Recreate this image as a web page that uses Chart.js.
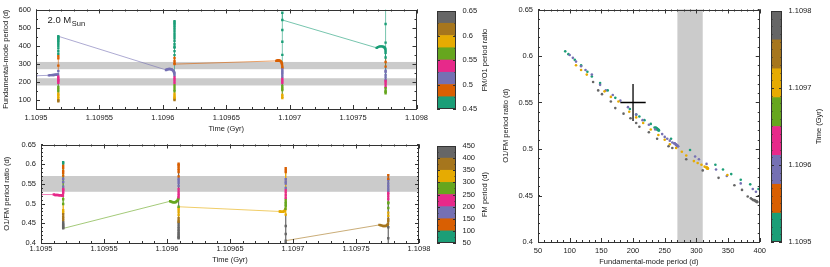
<!DOCTYPE html>
<html>
<head>
<meta charset="utf-8">
<title>Períodos 2.0 MSun</title>
<script src="https://cdn.jsdelivr.net/npm/chart.js@4.4.1/dist/chart.umd.min.js"></script>
<style>
  body { margin: 0; background: #fff; }
  #painel { position: relative; width: 830px; height: 267px; }
  canvas { position: absolute; }
</style>
</head>
<body>
<div id="painel">
  <canvas id="time-fm-chart" width="432" height="135" style="left:0;top:0"></canvas>
  <canvas id="ratio-bar" width="60" height="135" style="left:437px;top:0"></canvas>
  <canvas id="time-ratio-chart" width="432" height="132" style="left:0;top:135px"></canvas>
  <canvas id="fm-bar" width="60" height="132" style="left:437px;top:135px"></canvas>
  <canvas id="fm-ratio-chart" width="273" height="267" style="left:497px;top:0"></canvas>
  <canvas id="time-bar" width="59" height="267" style="left:771px;top:0"></canvas>
</div>
<script>
// Cores das classes (paleta Dark2)
const binColors = ['#1b9e77', '#d95f02', '#7570b3', '#e7298a', '#66a61e', '#e6ab02', '#a6761d', '#666666'];

// Limites das classes de cor
const ratioEdges = [0.45, 0.475, 0.5, 0.525, 0.55, 0.575, 0.6, 0.625, 0.65];
const fmEdges = [50, 100, 150, 200, 250, 300, 350, 400, 450];
const timeEdges = [1.1095, 1.1095375, 1.109575, 1.1096125, 1.10965, 1.1096875, 1.109725, 1.1097625, 1.1098];

// Rótulos dos eixos
const timeTicks = [1.1095, 1.10955, 1.1096, 1.10965, 1.1097, 1.10975, 1.1098];
const timeTickLabels = ['1.1095', '1.10955', '1.1096', '1.10965', '1.1097', '1.10975', '1.1098'];
const fmTicks = [100, 200, 300, 400, 500, 600];
const fmAxisTicks = [50, 100, 150, 200, 250, 300, 350, 400];
const ratioTicks = [0.4, 0.45, 0.5, 0.55, 0.6, 0.65];
const ratioTickLabels = ['0.4', '0.45', '0.5', '0.55', '0.6', '0.65'];
const ratioBarTicks = [0.45, 0.5, 0.55, 0.6, 0.65];
const ratioBarLabels = ['0.45', '0.5', '0.55', '0.6', '0.65'];
const fmBarTicks = [50, 100, 150, 200, 250, 300, 350, 400, 450];
const timeBarTicks = [1.1095, 1.1096, 1.1097, 1.1098];
const timeBarLabels = ['1.1095', '1.1096', '1.1097', '1.1098'];

// Faixas cinzentas
const fmBands = [[180, 220], [270, 310]];
const ratioBands = [[0.53, 0.57]];

// Cruz de observação
const crossFm = [180, 200, 220];
const crossRatio = [0.53, 0.55, 0.57];

// Dados do modelo: idade (Gyr)
const timeGyr = [
  1.1095000,
  1.1095102, 1.1095112, 1.1095122, 1.1095132, 1.1095142, 1.1095150, 1.1095158, 1.1095165, 1.1095170, 1.1095174,
  1.1095176, 1.1095176, 1.1095176, 1.1095176, 1.1095176, 1.1095176, 1.1095176, 1.1095176, 1.1095176, 1.1095176,
  1.1095176, 1.1095176, 1.1095176, 1.1095176, 1.1095176, 1.1095176, 1.1095176, 1.1095176, 1.1095176, 1.1095176,
  1.1095176, 1.1095176, 1.1095176, 1.1095176, 1.1095176, 1.1095176, 1.1095176, 1.1095176, 1.1095176,
  1.1096025, 1.1096032, 1.1096040, 1.1096048, 1.1096056, 1.1096064, 1.1096071, 1.1096077, 1.1096082, 1.1096086, 1.1096088, 1.1096090, 1.1096091,
  1.1096092, 1.1096092, 1.1096092, 1.1096092, 1.1096092, 1.1096092, 1.1096092, 1.1096092, 1.1096092, 1.1096092,
  1.1096092, 1.1096092, 1.1096092, 1.1096092, 1.1096092, 1.1096092, 1.1096092, 1.1096092, 1.1096092, 1.1096092,
  1.1096092, 1.1096092, 1.1096092, 1.1096092, 1.1096092, 1.1096092, 1.1096092, 1.1096092, 1.1096092, 1.1096092,
  1.1096092, 1.1096092, 1.1096092, 1.1096092, 1.1096092,
  1.1096895, 1.1096900, 1.1096905, 1.1096910, 1.1096915, 1.1096920, 1.1096925, 1.1096930, 1.1096935, 1.1096938, 1.1096940,
  1.1096942, 1.1096942, 1.1096942, 1.1096942, 1.1096942, 1.1096942, 1.1096942, 1.1096942, 1.1096942, 1.1096942,
  1.1096942, 1.1096942, 1.1096942, 1.1096942, 1.1096942, 1.1096942, 1.1096942, 1.1096942, 1.1096942, 1.1096942,
  1.1096942,
  1.1097686, 1.1097695, 1.1097705, 1.1097715, 1.1097725, 1.1097735, 1.1097742, 1.1097748, 1.1097752, 1.1097754,
  1.1097756, 1.1097756, 1.1097756, 1.1097756, 1.1097756, 1.1097756, 1.1097756, 1.1097756, 1.1097756, 1.1097756,
  1.1097756, 1.1097756, 1.1097756, 1.1097756, 1.1097756, 1.1097756, 1.1097756, 1.1097756, 1.1097756, 1.1097756,
  1.1097756
];

// Período do modo fundamental (d)
const fmPeriod = [
  234,
  236, 237, 237, 238, 238, 239, 239, 240, 240, 241,
  228, 218, 210, 205, 195, 172, 160, 148, 135, 128,
  118, 108, 98, 93, 260, 290, 330, 342, 355, 370,
  385, 398, 410, 420, 428, 435, 441, 447, 452,
  266, 268, 270, 271, 271, 270, 268, 265, 262, 258, 254, 250, 246,
  235, 225, 215, 205, 192, 180, 168, 157, 148, 135,
  125, 118, 110, 105, 100, 535, 528, 520, 510, 500,
  490, 478, 465, 452, 440, 425, 408, 394, 389, 370,
  348, 331, 316, 304, 298,
  316, 317, 318, 318, 318, 317, 316, 313, 308, 302, 296,
  284, 277, 268, 258, 250, 240, 228, 216, 205, 194,
  177, 165, 155, 127, 118, 110, 349, 422, 487, 582,
  542,
  388, 392, 395, 396, 396, 395, 393, 390, 386, 381,
  372, 360, 335, 310, 284, 262, 256, 238, 225, 210,
  205, 196, 185, 172, 165, 151, 145, 137, 417, 520,
  640
];

// Razão de períodos O1/FM
const periodRatio = [
  0.523,
  0.523, 0.522, 0.522, 0.522, 0.521, 0.521, 0.521, 0.521, 0.520, 0.520,
  0.527, 0.531, 0.535, 0.537, 0.543, 0.555, 0.563, 0.571, 0.578, 0.583,
  0.590, 0.596, 0.602, 0.605, 0.511, 0.499, 0.483, 0.478, 0.473, 0.467,
  0.462, 0.457, 0.452, 0.449, 0.446, 0.443, 0.441, 0.439, 0.437,
  0.506, 0.505, 0.504, 0.503, 0.503, 0.503, 0.504, 0.506, 0.507, 0.509, 0.511, 0.513, 0.516,
  0.521, 0.526, 0.531, 0.537, 0.545, 0.552, 0.558, 0.563, 0.569, 0.580,
  0.585, 0.589, 0.594, 0.598, 0.601, 0.412, 0.414, 0.416, 0.419, 0.422,
  0.425, 0.429, 0.433, 0.437, 0.441, 0.446, 0.451, 0.454, 0.457, 0.463,
  0.471, 0.478, 0.484, 0.489, 0.492,
  0.480, 0.480, 0.479, 0.479, 0.479, 0.479, 0.480, 0.481, 0.483, 0.485, 0.487,
  0.493, 0.497, 0.501, 0.505, 0.510, 0.515, 0.521, 0.528, 0.534, 0.540,
  0.551, 0.556, 0.562, 0.580, 0.585, 0.590, 0.472, 0.443, 0.423, 0.401,
  0.406,
  0.446, 0.445, 0.444, 0.443, 0.443, 0.443, 0.444, 0.445, 0.447, 0.449,
  0.456, 0.461, 0.469, 0.477, 0.489, 0.501, 0.503, 0.511, 0.518, 0.524,
  0.528, 0.533, 0.538, 0.544, 0.551, 0.559, 0.563, 0.572, 0.440, 0.412,
  0.380
];

Chart.defaults.font.family = '"Liberation Sans", Arial, sans-serif';
Chart.defaults.font.size = 7.5;
Chart.defaults.color = '#1a1a1a';
Chart.defaults.animation = false;

// Classe de cor de um valor
function binIndex(edges, v) {
  for (let i = 1; i < edges.length - 1; i++) {
    if (v < edges[i]) return i - 1;
  }
  return edges.length - 2;
}

function fixedTicks(values) {
  return scale => { scale.ticks = values.map(v => ({value: v})); };
}

const noGrid = {display: false, drawTicks: false};

// Faixas cinzentas atrás dos dados
const bandsPlugin = {
  id: 'bands',
  beforeDatasetsDraw(chart, args, opts) {
    const {ctx, chartArea: a, scales} = chart;
    ctx.save();
    ctx.fillStyle = '#cbcbcb';
    (opts.y || []).forEach(([lo, hi]) => {
      const y1 = scales.y.getPixelForValue(hi);
      const y2 = scales.y.getPixelForValue(lo);
      ctx.fillRect(a.left, y1, a.width, y2 - y1);
    });
    (opts.x || []).forEach(([lo, hi]) => {
      const x1 = scales.x.getPixelForValue(lo);
      const x2 = scales.x.getPixelForValue(hi);
      ctx.fillRect(x1, a.top, x2 - x1, a.height);
    });
    ctx.restore();
  }
};

// Moldura com marcas para dentro
const framePlugin = {
  id: 'frame',
  afterDatasetsDraw(chart, args, opts) {
    const {ctx, chartArea: a} = chart;
    ctx.save();
    ctx.strokeStyle = '#333';
    ctx.lineWidth = 1;
    ctx.beginPath();
    for (const id of ['x', 'y']) {
      const sc = chart.scales[id];
      if (!sc || !opts[id]) continue;
      const len = opts[id].len || 4;
      const marks = sc.ticks.map(t => [t.value, len]);
      const minor = opts[id].minor;
      if (minor) {
        for (let v = sc.min; v <= sc.max + minor / 2; v += minor) marks.push([v, len / 2]);
      }
      marks.forEach(([v, l]) => {
        const p = Math.round(sc.getPixelForValue(v)) + 0.5;
        if (id === 'x') {
          ctx.moveTo(p, a.bottom); ctx.lineTo(p, a.bottom - l);
          ctx.moveTo(p, a.top); ctx.lineTo(p, a.top + l);
        } else {
          ctx.moveTo(a.left, p); ctx.lineTo(a.left + l, p);
          ctx.moveTo(a.right, p); ctx.lineTo(a.right - l, p);
        }
      });
    }
    ctx.stroke();
    ctx.strokeRect(Math.round(a.left) + 0.5, Math.round(a.top) + 0.5, Math.round(a.width) - 1, Math.round(a.height) - 1);
    ctx.restore();
  }
};

// Título vertical das barras de cor
const sideTitlePlugin = {
  id: 'sideTitle',
  afterDraw(chart, args, opts) {
    const {ctx, chartArea: a} = chart;
    ctx.save();
    ctx.translate(opts.x, (a.top + a.bottom) / 2);
    ctx.rotate(-Math.PI / 2);
    ctx.font = '7.5px "Liberation Sans", Arial, sans-serif';
    ctx.fillStyle = '#1a1a1a';
    ctx.textAlign = 'center';
    ctx.textBaseline = 'middle';
    ctx.fillText(opts.text, 0, 0);
    ctx.restore();
  }
};

// Rótulo da massa
const massLabelPlugin = {
  id: 'massLabel',
  afterDraw(chart) {
    const ctx = chart.ctx;
    ctx.save();
    ctx.fillStyle = '#1a1a1a';
    ctx.font = '9.5px "Liberation Sans", Arial, sans-serif';
    ctx.fillText('2.0 M', 47.5, 23);
    const w = ctx.measureText('2.0 M').width;
    ctx.font = '7.5px "Liberation Sans", Arial, sans-serif';
    ctx.fillText('Sun', 47.5 + w + 0.5, 25.8);
    ctx.restore();
  }
};

function timeAxis(height, labelPad, titlePad) {
  return {
    type: 'linear', min: 1.1095, max: 1.1098,
    afterBuildTicks: fixedTicks(timeTicks),
    afterFit: s => { s.height = height; },
    ticks: {callback: (v, i) => timeTickLabels[i], padding: labelPad, maxRotation: 0, autoSkip: false},
    grid: noGrid, border: {display: false},
    title: {display: true, text: 'Time (Gyr)', padding: {top: 0, bottom: titlePad}}
  };
}

function valueAxis(min, max, ticks, labels, width, title, titlePad) {
  return {
    type: 'linear', min: min, max: max,
    afterBuildTicks: fixedTicks(ticks),
    afterFit: s => { s.width = width; },
    ticks: {callback: (v, i) => labels[i], padding: 5, autoSkip: false},
    grid: noGrid, border: {display: false},
    title: {display: true, text: title, padding: {top: titlePad, bottom: 0}}
  };
}

function lineDataset(xs, ys, colors) {
  return {
    data: xs.map((x, i) => ({x: x, y: ys[i]})),
    showLine: true,
    borderWidth: 0.9,
    borderColor: colors[0] + 'aa',
    segment: {borderColor: c => colors[c.p1DataIndex] + 'aa'},
    pointStyle: 'rect',
    pointRadius: 1.7,
    pointBorderWidth: 0,
    pointBackgroundColor: colors
  };
}

// Gráfico: tempo x período fundamental
function generateTimeFmChart() {
  const colors = periodRatio.map(r => binColors[binIndex(ratioEdges, r)]);
  new Chart(document.getElementById('time-fm-chart'), {
    type: 'scatter',
    data: {datasets: [lineDataset(timeGyr, fmPeriod, colors)]},
    options: {
      responsive: false,
      events: [],
      layout: {padding: {left: 0, right: 5, top: 9, bottom: 0}, autoPadding: false},
      plugins: {
        legend: {display: false}, tooltip: {enabled: false},
        bands: {y: fmBands},
        frame: {x: {minor: 0.00001}, y: {minor: 50}}
      },
      scales: {
        x: timeAxis(26, 4, 1.8),
        y: valueAxis(50, 600, fmTicks, fmTicks.map(String), 36, 'Fundamental-mode period (d)', 1.7)
      }
    },
    plugins: [bandsPlugin, framePlugin, massLabelPlugin]
  });
}

// Gráfico: tempo x razão de períodos
function generateTimeRatioChart() {
  const colors = fmPeriod.map(p => binColors[binIndex(fmEdges, p)]);
  new Chart(document.getElementById('time-ratio-chart'), {
    type: 'scatter',
    data: {datasets: [lineDataset(timeGyr, periodRatio, colors)]},
    options: {
      responsive: false,
      events: [],
      layout: {padding: {left: 0, right: 5, top: 8, bottom: 0}, autoPadding: false},
      plugins: {
        legend: {display: false}, tooltip: {enabled: false},
        bands: {y: ratioBands},
        frame: {x: {minor: 0.00001}, y: {minor: 0.01}}
      },
      scales: {
        x: timeAxis(24, 1.5, 3),
        y: valueAxis(0.4, 0.65, ratioTicks, ratioTickLabels, 41, 'O1/FM period ratio (d)', 2.7)
      }
    },
    plugins: [bandsPlugin, framePlugin]
  });
}

// Gráfico: período fundamental x razão
function generateFmRatioChart() {
  const colors = timeGyr.map(t => binColors[binIndex(timeEdges, t)]);
  const crossStyle = {showLine: true, borderColor: '#000', borderWidth: 1.3, pointRadius: 0};
  new Chart(document.getElementById('fm-ratio-chart'), {
    type: 'scatter',
    data: {datasets: [
      {
        data: fmPeriod.map((p, i) => ({x: p, y: periodRatio[i]})),
        pointStyle: 'circle', pointRadius: 1.3, pointBorderWidth: 0,
        pointBackgroundColor: colors
      },
      Object.assign({data: [{x: crossFm[0], y: crossRatio[1]}, {x: crossFm[2], y: crossRatio[1]}]}, crossStyle),
      Object.assign({data: [{x: crossFm[1], y: crossRatio[0]}, {x: crossFm[1], y: crossRatio[2]}]}, crossStyle)
    ]},
    options: {
      responsive: false,
      events: [],
      layout: {padding: {left: 0, right: 4, top: 9, bottom: 0}, autoPadding: false},
      plugins: {
        legend: {display: false}, tooltip: {enabled: false},
        bands: {x: [[270, 310]]},
        frame: {x: {minor: 10}, y: {minor: 0.01}}
      },
      scales: {
        x: {
          type: 'linear', min: 50, max: 400,
          afterBuildTicks: fixedTicks(fmAxisTicks),
          afterFit: s => { s.height = 25; },
          ticks: {callback: (v, i) => String(fmAxisTicks[i]), padding: 4, maxRotation: 0, autoSkip: false},
          grid: noGrid, border: {display: false},
          title: {display: true, text: 'Fundamental-mode period (d)', padding: {top: 0, bottom: 0.3}}
        },
        y: valueAxis(0.4, 0.65, ratioTicks, ratioTickLabels, 41, 'O1/FM period ratio (d)', 4.8)
      }
    },
    plugins: [bandsPlugin, framePlugin]
  });
}

// Barra de cores
function generateColorbar(id, edges, ticks, labels, title, axisWidth, pad, minor) {
  new Chart(document.getElementById(id), {
    type: 'bar',
    data: {
      labels: [''],
      datasets: binColors.map((c, i) => ({
        data: [[edges[i], edges[i + 1]]],
        backgroundColor: c, borderWidth: 0, grouped: false,
        barPercentage: 1, categoryPercentage: 1
      }))
    },
    options: {
      responsive: false,
      events: [],
      layout: {padding: pad, autoPadding: false},
      plugins: {
        legend: {display: false}, tooltip: {enabled: false},
        frame: {y: {minor: minor, len: 3}},
        sideTitle: {text: title, x: 48}
      },
      scales: {
        x: {display: false},
        y: {
          position: 'right', min: edges[0], max: edges[edges.length - 1],
          afterBuildTicks: fixedTicks(ticks),
          afterFit: s => { s.width = axisWidth; },
          ticks: {callback: (v, i) => labels[i], padding: 6.5, autoSkip: false},
          grid: noGrid, border: {display: false}
        }
      }
    },
    plugins: [framePlugin, sideTitlePlugin]
  });
}

// Chamada das funções
generateTimeFmChart();
generateTimeRatioChart();
generateFmRatioChart();
generateColorbar('ratio-bar', ratioEdges, ratioBarTicks, ratioBarLabels, 'FM/O1 period ratio', 41,
  {left: 0, right: 0, top: 9, bottom: 26}, 0.025);
generateColorbar('fm-bar', fmEdges, fmBarTicks, fmBarTicks.map(String), 'FM period (d)', 41,
  {left: 0, right: 0, top: 8, bottom: 24}, 25);
generateColorbar('time-bar', timeEdges, timeBarTicks, timeBarLabels, 'Time (Gyr)', 48,
  {left: 0, right: 0, top: 9, bottom: 25}, 0.00001);
</script>
</body>
</html>
